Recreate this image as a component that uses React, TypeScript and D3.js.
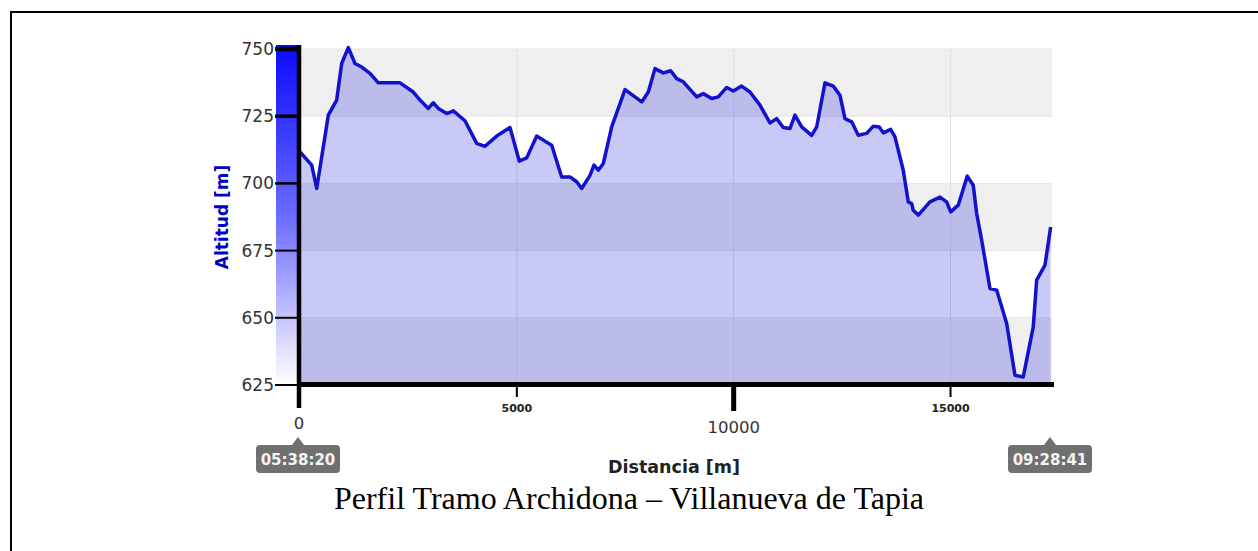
import React from "react";
import * as d3 from "d3";

const distances = [0, 270, 385, 653, 846, 961, 1114, 1268, 1423, 1614, 1805, 2306, 2612, 2767, 2958, 3074, 3189, 3383, 3535, 3804, 4074, 4266, 4535, 4842, 5056, 5227, 5458, 5610, 5804, 6034, 6225, 6380, 6495, 6687, 6779, 6878, 6994, 7187, 7494, 7724, 7879, 8031, 8185, 8377, 8547, 8686, 8838, 9147, 9299, 9493, 9645, 9839, 9991, 10184, 10376, 10606, 10837, 10991, 11144, 11298, 11413, 11568, 11798, 11914, 12105, 12297, 12451, 12566, 12721, 12873, 13067, 13219, 13357, 13450, 13620, 13719, 13910, 14026, 14104, 14141, 14256, 14526, 14757, 14911, 15003, 15178, 15386, 15524, 15603, 15718, 15910, 16064, 16295, 16486, 16677, 16908, 16986, 17178, 17309];
const altitudes = [711.7, 706.8, 698.1, 725.4, 731, 744.6, 750.5, 744.6, 743.3, 740.9, 737.4, 737.4, 734, 731, 727.9, 730, 727.9, 726, 727, 723.3, 714.9, 713.8, 717.6, 720.8, 708.3, 709.5, 717.6, 716.1, 714.2, 702.4, 702.4, 700.6, 698.1, 703, 706.8, 704.9, 707.4, 721, 734.9, 732.2, 730.3, 734, 742.7, 741.1, 741.9, 739, 737.8, 732.2, 733.4, 731.6, 732.2, 735.7, 734.4, 736.2, 734, 729.1, 722.5, 724.1, 720.8, 720.4, 725.4, 721, 717.9, 721, 737.4, 736.2, 732.8, 724.1, 722.9, 717.9, 718.6, 721.3, 721, 718.8, 720.1, 717.3, 704.9, 693.1, 692.5, 690, 688.2, 693.1, 694.9, 693.1, 689.4, 691.9, 702.7, 699.3, 688.8, 678.9, 660.9, 660.3, 647.9, 628.6, 628, 646.6, 664, 669.6, 683.8];

const yTicks = [625, 650, 675, 700, 725, 750];
const xTicks = [0, 5000, 10000, 15000];
const startTime = "05:38:20";
const endTime = "09:28:41";
const xTitle = "Distancia [m]";
const yTitle = "Altitud [m]";
const caption = "Perfil Tramo Archidona – Villanueva de Tapia";
const xMax = 17340;

export default function App() {
  const W = 1258, H = 551;
  const left = 300, right = 1052, top = 49, bottom = 385;
  const x = d3.scaleLinear().domain([0, xMax]).range([left, right]);
  const y = d3.scaleLinear().domain([625, 750]).range([bottom, top]);
  const pts: [number, number][] = distances.map((d, i) => [d, altitudes[i]]);
  const area = d3.area<[number, number]>().x(d => x(d[0])).y0(y(625)).y1(d => y(d[1]))(pts) || "";
  const line = d3.line<[number, number]>().x(d => x(d[0])).y(d => y(d[1]))(pts) || "";
  const bands = yTicks.slice(0, -1).map((v, i) => ({ lo: v, hi: yTicks[i + 1], gray: i % 2 === 0 }));
  const font = "'DejaVu Sans', Verdana, sans-serif";

  const badge = (cx: number, label: string) => {
    const bw = 84, bh = 28, by = 445;
    return (
      <g>
        <path d={`M${cx - 6},${by} L${cx},${by - 8} L${cx + 6},${by} Z`} fill="#707070" />
        <rect x={cx - bw / 2} y={by} width={bw} height={bh} rx={4} fill="#707070" />
        <text x={cx} y={by + bh / 2 + 5.5} textAnchor="middle" fill="#f4f4f4" fontFamily={font} fontWeight="bold" fontSize={15}>{label}</text>
      </g>
    );
  };

  return (
    <svg width={W} height={H} style={{ position: "absolute", left: 0, top: 0, background: "#fff" }}>
      <defs>
        <linearGradient id="ybar" x1="0" y1="0" x2="0" y2="1">
          <stop offset="0" stopColor="#0a0aff" />
          <stop offset="0.5" stopColor="#6a6aff" />
          <stop offset="1" stopColor="#ffffff" />
        </linearGradient>
      </defs>
      <line x1={10} y1={12} x2={W} y2={12} stroke="#000" strokeWidth={2} />
      <line x1={11} y1={11} x2={11} y2={H} stroke="#000" strokeWidth={2} />

      {bands.map((b, i) => (
        <rect key={i} x={left} y={y(b.hi)} width={right - left} height={y(b.lo) - y(b.hi)} fill={b.gray ? "#efefef" : "#ffffff"} />
      ))}
      {yTicks.map((v, i) => (
        <line key={i} x1={left} x2={right} y1={y(v)} y2={y(v)} stroke="#e6e6e6" strokeWidth={1} />
      ))}
      {xTicks.slice(1).map((v, i) => (
        <line key={i} x1={x(v)} x2={x(v)} y1={top} y2={bottom} stroke="#e0e0e0" strokeWidth={1} />
      ))}

      <path d={area} fill="rgb(0,0,215)" fillOpacity={0.21} />
      <path d={line} fill="none" stroke="#1212cc" strokeWidth={3.5} strokeLinejoin="round" />

      <rect x={276} y={45} width={21} height={bottom - 45} fill="url(#ybar)" />
      {yTicks.map((v, i) => (
        <g key={i}>
          <line x1={275} x2={300} y1={y(v)} y2={y(v)} stroke="#000" strokeWidth={Math.max(2, i - 0.5)} />
          <text x={274} y={y(v) + 6} textAnchor="end" fontFamily={font} fontSize={17} fill="#333">{v}</text>
        </g>
      ))}
      <line x1={299} x2={299} y1={45} y2={408} stroke="#000" strokeWidth={4.5} />
      <line x1={297} x2={1054} y1={384.5} y2={384.5} stroke="#000" strokeWidth={5} />

      {xTicks.map((v, i) => {
        const major = v % 10000 === 0;
        if (v === 0) {
          return <text key={i} x={x(v) - 1} y={429} textAnchor="middle" fontFamily={font} fontSize={16.5} fill="#333">{v}</text>;
        }
        return (
          <g key={i}>
            <line x1={x(v)} x2={x(v)} y1={385} y2={major ? 411 : 397} stroke="#000" strokeWidth={major ? 5 : 2} />
            {major ? (
              <text x={x(v)} y={433} textAnchor="middle" fontFamily={font} fontSize={16.5} fill="#333">{v}</text>
            ) : (
              <text x={x(v)} y={412} textAnchor="middle" fontFamily={font} fontSize={11} fontWeight="bold" fill="#222">{v}</text>
            )}
          </g>
        );
      })}

      <text transform="translate(228,217) rotate(-90)" textAnchor="middle" fontFamily={font} fontWeight="bold" fontSize={17} fill="#0000c8">{yTitle}</text>
      <text x={674} y={473} textAnchor="middle" fontFamily={font} fontWeight="bold" fontSize={17.5} fill="#222">{xTitle}</text>

      {badge(x(0) - 2, startTime)}
      {badge(1050, endTime)}

      <text x={629} y={509} textAnchor="middle" fontFamily="'Liberation Serif', 'Times New Roman', serif" fontSize={32} fill="#000">{caption}</text>
    </svg>
  );
}
